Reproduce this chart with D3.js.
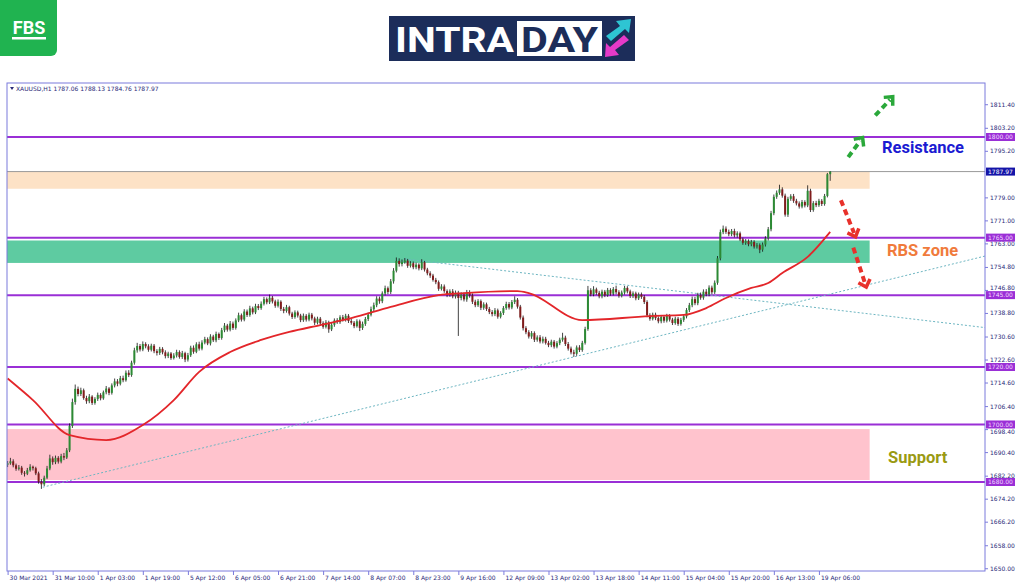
<!DOCTYPE html>
<html><head><meta charset="utf-8">
<script src="https://cdn.jsdelivr.net/npm/d3@7"></script>
<style>body{margin:0;background:#fff;}svg{display:block;}</style>
</head><body><svg id="c" width="1024" height="587"></svg>
<script>
// ---------------- DATA ----------------
const firstOpen = 1686.0;
const closes = [
1686.5,1687.2,1685.8,1684.6,1685.0,1683.2,1682.9,1684.1,1685.3,1684.8,
1683.0,1680.1,1679.2,1681.5,1684.7,1688.2,1686.9,1688.4,1687.1,1689.0,
1688.5,1691.0,1699.5,1707.8,1712.4,1710.6,1711.9,1709.2,1708.1,1709.7,
1707.5,1708.9,1710.3,1709.1,1711.2,1712.5,1711.0,1713.6,1715.0,1714.2,
1716.1,1715.4,1718.0,1717.2,1721.5,1725.8,1727.3,1726.1,1728.0,1727.2,
1726.0,1727.4,1725.5,1724.9,1726.3,1725.1,1723.8,1724.7,1723.1,1724.0,
1725.2,1723.5,1724.8,1722.6,1724.1,1726.7,1725.3,1727.9,1726.4,1728.5,
1729.7,1728.2,1730.6,1729.3,1731.5,1730.1,1732.8,1734.4,1733.0,1735.1,
1733.6,1736.2,1738.0,1736.5,1739.3,1738.1,1740.4,1739.0,1741.2,1740.5,
1742.0,1743.6,1742.5,1744.1,1742.8,1741.3,1742.7,1740.2,1739.5,1740.8,
1738.6,1737.4,1739.0,1737.9,1736.3,1737.8,1736.5,1738.2,1736.9,1735.4,
1736.8,1735.2,1734.0,1735.5,1733.1,1734.7,1736.2,1735.6,1737.3,1736.4,
1737.8,1736.0,1735.4,1734.2,1735.9,1733.6,1735.0,1736.7,1738.2,1740.1,
1741.5,1743.8,1742.9,1745.6,1747.4,1746.1,1749.8,1753.5,1756.9,1755.8,
1756.5,1757.0,1755.2,1756.1,1754.7,1755.6,1754.3,1756.4,1753.9,1752.6,
1751.8,1750.3,1749.5,1747.2,1748.0,1746.4,1745.1,1746.3,1744.6,1745.8,
1744.0,1745.2,1743.5,1746.0,1744.9,1742.7,1741.5,1742.9,1740.6,1741.8,
1740.2,1739.1,1738.4,1739.7,1737.5,1738.8,1740.5,1741.9,1740.7,1742.6,
1743.4,1741.0,1737.2,1733.5,1732.1,1730.6,1731.8,1729.5,1730.3,1728.9,
1729.8,1728.4,1727.6,1728.8,1727.1,1728.3,1729.5,1730.2,1728.0,1726.4,
1725.1,1724.6,1726.8,1725.9,1728.4,1733.2,1746.7,1745.3,1747.0,1745.8,
1744.6,1746.2,1745.0,1746.8,1745.5,1747.1,1746.0,1744.8,1745.9,1747.5,
1746.3,1744.7,1745.6,1743.9,1745.2,1744.4,1742.6,1738.0,1736.8,1738.2,
1737.0,1735.9,1737.4,1736.1,1737.8,1736.5,1735.3,1736.8,1735.0,1736.4,
1737.6,1739.8,1741.5,1743.6,1742.2,1745.0,1744.1,1746.2,1745.3,1747.6,
1746.0,1749.3,1757.8,1766.9,1768.1,1767.0,1766.2,1767.3,1765.8,1766.5,
1764.4,1763.2,1763.8,1762.7,1763.5,1761.9,1762.4,1760.8,1762.6,1764.7,
1767.9,1773.5,1779.2,1780.6,1781.8,1779.6,1773.0,1778.5,1779.4,1777.8,
1776.9,1775.8,1777.4,1776.2,1781.3,1774.6,1777.0,1776.3,1777.8,1776.7,
1779.5,1787.06,1787.97];
const highs = [
1687.3,1688.4,1687.9,1686.4,1685.9,1685.6,1683.8,1684.9,1686.2,1685.7,
1685.3,1683.6,1681.0,1682.2,1685.6,1689.5,1688.9,1689.2,1689.0,1689.8,
1690.1,1691.8,1700.4,1709.0,1713.9,1713.2,1712.8,1712.5,1710.0,1710.6,
1710.2,1709.5,1711.1,1710.9,1711.8,1713.4,1713.0,1714.3,1716.0,1715.8,
1716.9,1717.0,1718.8,1718.9,1722.2,1726.7,1728.4,1728.0,1728.9,1728.6,
1727.9,1728.1,1728.0,1726.2,1727.0,1726.9,1725.8,1725.3,1725.2,1724.8,
1726.0,1725.8,1725.6,1725.3,1724.9,1727.4,1727.5,1728.6,1728.8,1729.3,
1730.5,1730.3,1731.4,1731.2,1732.3,1732.0,1733.6,1735.3,1735.0,1736.0,
1735.8,1736.9,1738.9,1738.6,1740.1,1740.0,1741.3,1741.0,1742.0,1741.9,
1742.8,1744.4,1744.2,1745.2,1744.7,1743.4,1743.5,1743.2,1740.9,1741.6,
1741.3,1739.2,1739.7,1739.6,1738.5,1738.6,1738.4,1738.9,1738.8,1737.5,
1737.5,1737.4,1735.9,1736.3,1736.1,1735.4,1736.9,1737.0,1738.0,1738.1,
1738.5,1738.4,1736.8,1736.0,1736.6,1736.5,1735.8,1737.4,1738.9,1741.0,
1742.4,1744.6,1744.5,1746.3,1748.3,1748.0,1750.6,1754.4,1758.1,1757.8,
1757.4,1757.9,1757.6,1756.8,1756.7,1756.3,1756.1,1757.5,1756.9,1754.5,
1753.3,1752.4,1751.0,1750.1,1748.8,1748.7,1747.0,1747.0,1747.1,1746.6,
1746.5,1746.0,1745.9,1746.8,1746.7,1745.6,1743.4,1743.6,1743.5,1742.5,
1742.4,1740.9,1739.8,1740.5,1740.3,1739.4,1741.2,1742.7,1742.6,1743.3,
1744.6,1744.0,1741.6,1737.9,1734.2,1732.8,1732.5,1732.4,1731.0,1731.1,
1730.6,1730.5,1729.1,1729.5,1729.4,1729.0,1730.2,1731.9,1730.9,1728.7,
1727.1,1726.0,1727.5,1727.6,1729.1,1734.0,1748.2,1747.4,1748.1,1747.6,
1746.5,1746.9,1746.8,1747.5,1747.4,1747.8,1748.3,1746.7,1746.6,1748.2,
1748.1,1746.9,1746.3,1746.2,1745.9,1745.9,1745.0,1743.2,1738.7,1738.9,
1738.9,1737.6,1738.1,1738.0,1738.5,1738.4,1737.1,1737.5,1737.4,1737.1,
1738.3,1740.5,1742.3,1744.5,1744.4,1745.8,1745.9,1747.0,1747.1,1748.4,
1748.3,1750.1,1758.6,1767.8,1769.2,1768.9,1767.8,1768.0,1768.1,1767.2,
1767.1,1765.0,1764.5,1764.4,1764.2,1764.1,1763.1,1763.0,1763.3,1765.5,
1768.7,1774.3,1780.0,1781.4,1783.4,1782.5,1780.3,1779.2,1780.1,1780.2,
1778.5,1777.6,1778.1,1778.0,1783.2,1782.0,1777.7,1777.8,1778.5,1778.4,
1780.2,1787.5,1788.13];
const lows = [
1685.2,1686.0,1685.1,1683.9,1684.0,1682.5,1681.9,1682.4,1683.6,1684.0,
1682.4,1679.4,1677.6,1678.6,1681.0,1684.1,1686.0,1686.2,1686.4,1686.5,
1687.6,1688.0,1690.4,1698.8,1706.9,1709.8,1709.9,1708.6,1707.2,1707.4,
1706.8,1706.9,1708.2,1708.4,1708.6,1710.5,1710.2,1710.4,1712.9,1713.3,
1713.6,1714.7,1714.9,1716.5,1716.6,1720.8,1725.0,1725.4,1725.5,1726.5,
1725.3,1725.4,1724.8,1724.0,1724.2,1724.4,1723.0,1723.1,1722.5,1722.6,
1723.3,1722.9,1722.8,1721.7,1721.9,1723.5,1724.6,1724.8,1725.7,1725.8,
1727.9,1727.6,1727.5,1728.7,1728.6,1729.4,1729.5,1732.1,1732.3,1732.4,
1732.9,1733.0,1735.6,1735.8,1735.9,1737.4,1737.5,1738.3,1738.4,1739.8,
1739.9,1741.4,1741.8,1741.9,1742.1,1740.6,1740.7,1739.5,1738.7,1738.9,
1737.9,1736.7,1736.8,1737.2,1735.6,1735.7,1735.8,1735.9,1736.2,1734.6,
1734.8,1734.6,1733.3,1733.4,1731.9,1732.5,1734.0,1735.0,1735.0,1735.8,
1735.8,1735.3,1734.7,1733.5,1733.7,1732.5,1732.9,1734.3,1736.0,1737.6,
1739.4,1740.8,1742.0,1742.2,1744.9,1745.3,1745.4,1749.0,1752.9,1754.9,
1755.0,1755.9,1754.5,1754.6,1754.0,1754.0,1753.6,1753.7,1753.2,1751.9,
1751.0,1749.7,1748.8,1746.5,1746.6,1745.8,1744.3,1744.4,1743.9,1743.8,
1730.8,1743.2,1742.8,1742.7,1744.1,1741.9,1740.8,1740.9,1739.8,1739.9,
1739.5,1738.4,1737.6,1737.7,1736.8,1736.9,1738.1,1739.9,1740.0,1740.1,
1741.9,1740.3,1736.5,1732.7,1731.4,1729.9,1729.8,1728.7,1728.8,1728.2,
1728.2,1727.8,1726.9,1726.9,1726.4,1726.5,1727.6,1728.8,1727.3,1725.7,
1724.4,1723.5,1723.9,1725.2,1725.3,1727.8,1732.6,1744.6,1744.6,1745.1,
1743.9,1743.9,1744.3,1744.4,1744.8,1744.9,1745.3,1744.1,1744.2,1745.2,
1745.6,1744.0,1744.0,1743.2,1743.3,1743.7,1741.9,1737.3,1736.1,1736.2,
1736.3,1735.2,1735.2,1735.4,1735.5,1735.8,1734.6,1734.7,1734.3,1734.4,
1735.7,1736.9,1739.1,1740.8,1741.5,1741.5,1743.4,1743.4,1744.6,1744.6,
1745.3,1745.4,1748.6,1757.1,1766.2,1766.3,1765.5,1765.5,1765.1,1765.0,
1763.8,1762.5,1762.5,1762.0,1762.0,1761.2,1761.2,1759.6,1760.1,1761.9,
1764.0,1767.2,1772.8,1778.5,1779.9,1778.9,1772.3,1772.2,1777.8,1777.1,
1776.2,1775.1,1775.2,1775.5,1775.6,1773.9,1774.0,1775.6,1775.7,1776.0,
1776.1,1779.0,1784.76];

// moving average (read at selected bars)
const maBars = [0,9,22,35,48,59,68,79,90,100,111,122,136,153,162,181,185,204,228,240,248,255,264,270,275,284,292];
const maValues = [1716.0,1708.5,1696.3,1694.6,1699.8,1708.5,1718.3,1725.2,1729.4,1732.2,1734.6,1737.0,1740.9,1745.0,1745.7,1746.4,1745.7,1736.3,1737.7,1738.1,1740.5,1744.0,1747.5,1749.2,1752.7,1758.3,1767.0];

const levels = [1800, 1765, 1745, 1720, 1700, 1680];
const lastPrice = 1787.97;
const headerText = "XAUUSD,H1  1787.06 1788.13 1784.76 1787.97";

const zoneTops = [1787.97, 1764.0, 1698.4];
const zoneBottoms = [1782.0, 1756.2, 1680.7];
const zoneEndBar = 306;

const trendUp = [[12.5, 1678.2], [347, 1758.6]];
const trendDown = [[141, 1757.6], [347, 1733.7]];

const yTicks = [1811.40,1803.20,1795.20,1779.00,1771.00,1763.00,1754.80,1746.80,1738.80,1730.60,1722.60,1714.60,1706.40,1698.40,1690.40,1682.20,1674.20,1666.20,1658.00,1650.00];
const xTickBars = [0,16,32,48,64,80,96,112,128,144,160,176,192,208,224,240,256,272,288];
const xTickLabels = ["30 Mar 2021","31 Mar 10:00","1 Apr 03:00","1 Apr 19:00","5 Apr 12:00","6 Apr 05:00","6 Apr 21:00","7 Apr 14:00","8 Apr 07:00","8 Apr 23:00","9 Apr 16:00","12 Apr 09:00","13 Apr 02:00","13 Apr 18:00","14 Apr 11:00","15 Apr 04:00","15 Apr 20:00","16 Apr 13:00","19 Apr 06:00"];

const annotations = ["Resistance", "RBS zone", "Support"];
const annotationPrice = [1796.6, 1760.6, 1688.6];

const arrowUpFrom = [[298.4, 1793.0], [308.0, 1807.5]];
const arrowUpTo = [[303.5, 1799.8], [314.2, 1814.0]];
const arrowDnFrom = [[295.8, 1778.0], [300.2, 1761.5]];
const arrowDnTo = [[301.0, 1765.3], [304.8, 1747.8]];

// ---------------- STYLE ----------------
const C = {
  frame: "#7b7bdc", tickText: "#2a2a78", level: "#9a2fd6", levelBox: "#9a2fd6",
  lastBox: "#1414a8", bull: "#2c8a34", bear: "#801c1c", wick: "#111",
  ma: "#e3262a", trend: "#6eb6c2", peach: "#fde2c6", green: "#5ecba1", pink: "#ffc3cd",
  resist: "#1a1ad2", rbs: "#f07b3c", support: "#9a9a12", arrowG: "#2aa83a", arrowR: "#e8312b"
};
const L = {left: 7, right: 985, top: 83, bottom: 571};

const svg = d3.select("#c");
const x = d3.scaleLinear().domain([0, 292]).range([7.6, 830.2]);
const y = d3.scaleLinear().domain([1650, 1800]).range([568.25, 137]);

// ---------- logos ----------
const logo = svg.append("g");
logo.append("rect").attr("x", -6).attr("y", -6).attr("width", 63).attr("height", 62).attr("rx", 6).attr("fill", "#20b350");
logo.append("text").attr("x", 29).attr("y", 34).attr("text-anchor", "middle")
  .attr("font-family", "Roboto, Arial, sans-serif").attr("font-weight", 700).attr("font-size", 18)
  .attr("fill", "#fff").text("FBS");
logo.append("rect").attr("x", 12).attr("y", 37).attr("width", 34).attr("height", 2.5).attr("fill", "#fff");

const intr = svg.append("g");
intr.append("rect").attr("x", 389).attr("y", 16).attr("width", 246).attr("height", 45).attr("fill", "#1c2d5a");
intr.append("rect").attr("x", 517).attr("y", 21).attr("width", 85).attr("height", 35).attr("fill", "#fff");
intr.append("text").attr("x", 395).attr("y", 52).attr("font-family", "Roboto, Arial, sans-serif")
  .attr("font-weight", 700).attr("font-size", 35).attr("fill", "#fff")
  .attr("textLength", 119).attr("lengthAdjust", "spacingAndGlyphs").text("INTRA");
intr.append("text").attr("x", 521).attr("y", 52).attr("font-family", "Roboto, Arial, sans-serif")
  .attr("font-weight", 700).attr("font-size", 35).attr("fill", "#1c2d5a")
  .attr("textLength", 77).attr("lengthAdjust", "spacingAndGlyphs").text("DAY");
// arrow icon
intr.append("path").attr("d", "M606,36 L620,26 L616,21 L631,19 L629,33 L625,29 L611,41 Z").attr("fill", "#2ec5d3");
intr.append("path").attr("d", "M629,40 L615,50 L619,55 L605,57 L606,43 L610,47 L624,35 Z").attr("fill", "#e63ac8");

// ---------- plot clip ----------
svg.append("defs").append("clipPath").attr("id", "clip").append("rect")
  .attr("x", L.left).attr("y", L.top).attr("width", L.right - L.left).attr("height", L.bottom - L.top);
const plot = svg.append("g").attr("clip-path", "url(#clip)");

// zones
const zc = [C.peach, C.green, C.pink];
plot.selectAll("rect.zone").data(zoneTops).join("rect").attr("class", "zone")
  .attr("x", L.left).attr("width", (d) => x(zoneEndBar) - L.left)
  .attr("y", (d) => y(d)).attr("height", (d, i) => y(zoneBottoms[i]) - y(d))
  .attr("fill", (d, i) => zc[i]);

// last price line
plot.append("line").attr("x1", L.left).attr("x2", L.right).attr("y1", y(lastPrice)).attr("y2", y(lastPrice))
  .attr("stroke", "#9a9a9a").attr("stroke-width", 1);

// levels
plot.selectAll("line.level").data(levels).join("line").attr("class", "level")
  .attr("x1", L.left).attr("x2", L.right).attr("y1", (d) => y(d)).attr("y2", (d) => y(d))
  .attr("stroke", C.level).attr("stroke-width", 2);

// trend lines
const tl = d3.line().x((d) => x(d[0])).y((d) => y(d[1]));
[trendUp, trendDown].forEach((t) => {
  plot.append("path").attr("d", tl(t)).attr("fill", "none").attr("stroke", C.trend)
    .attr("stroke-width", 1).attr("stroke-dasharray", "2,2");
});

// candles
const bars = closes.map((c, i) => {
  const o = i === 0 ? firstOpen : closes[i - 1];
  return {i, o, c, h: Math.max(highs[i], o, c), l: Math.min(lows[i], o, c)};
});
const cg = plot.append("g");
cg.selectAll("line.wick").data(bars).join("line")
  .attr("x1", (d) => x(d.i)).attr("x2", (d) => x(d.i))
  .attr("y1", (d) => y(d.h)).attr("y2", (d) => y(d.l))
  .attr("stroke", C.wick).attr("stroke-width", 0.8);
cg.selectAll("rect.body").data(bars).join("rect")
  .attr("x", (d) => x(d.i) - 1).attr("width", 2)
  .attr("y", (d) => y(Math.max(d.o, d.c)))
  .attr("height", (d) => Math.max(0.8, Math.abs(y(d.o) - y(d.c))))
  .attr("fill", (d) => d.c >= d.o ? C.bull : C.bear);

// moving average
const maLine = d3.line().x((d, i) => x(maBars[i])).y((d) => y(d)).curve(d3.curveMonotoneX);
plot.append("path").attr("d", maLine(maValues)).attr("fill", "none").attr("stroke", C.ma).attr("stroke-width", 1.8);

// arrows
function arrow(from, to, color) {
  const x1 = x(from[0]), y1 = y(from[1]), x2 = x(to[0]), y2 = y(to[1]);
  const ang = Math.atan2(y2 - y1, x2 - x1), hl = 9, spread = 0.75;
  const g = svg.append("g");
  g.append("line").attr("x1", x1).attr("y1", y1)
    .attr("x2", x2 - Math.cos(ang) * 4).attr("y2", y2 - Math.sin(ang) * 4)
    .attr("stroke", color).attr("stroke-width", 4).attr("stroke-dasharray", "6,4");
  const p = [[x2 - hl * Math.cos(ang - spread), y2 - hl * Math.sin(ang - spread)], [x2, y2],
             [x2 - hl * Math.cos(ang + spread), y2 - hl * Math.sin(ang + spread)]];
  g.append("path").attr("d", d3.line()(p)).attr("fill", "none").attr("stroke", color)
    .attr("stroke-width", 3.5).attr("stroke-linejoin", "miter");
}
arrowUpFrom.forEach((f, i) => arrow(f, arrowUpTo[i], C.arrowG));
arrowDnFrom.forEach((f, i) => arrow(f, arrowDnTo[i], C.arrowR));

// annotations
const ac = [C.resist, C.rbs, C.support];
const ax = [882, 887, 888];
svg.selectAll("text.ann").data(annotations).join("text").attr("class", "ann")
  .attr("x", (d, i) => ax[i]).attr("y", (d, i) => y(annotationPrice[i]))
  .attr("dy", "0.36em")
  .attr("font-family", "Roboto, Arial, sans-serif").attr("font-weight", 700).attr("font-size", 16.5)
  .attr("fill", (d, i) => ac[i]).text((d) => d);

// frame
svg.append("rect").attr("x", L.left).attr("y", L.top).attr("width", L.right - L.left)
  .attr("height", L.bottom - L.top).attr("fill", "none").attr("stroke", C.frame).attr("stroke-width", 1);

// header text
svg.append("path").attr("d", "M10,87 L14,87 L12,90 Z").attr("fill", C.tickText);
svg.append("text").attr("x", 16).attr("y", 91).attr("font-family", "DejaVu Sans, sans-serif")
  .attr("font-size", 6).attr("fill", C.tickText).text(headerText);

// y axis
const yAxis = d3.axisRight(y).tickValues(yTicks).tickFormat(d3.format(".2f")).tickSize(3).tickPadding(2);
const yg = svg.append("g").attr("transform", `translate(${L.right},0)`).call(yAxis);
yg.select(".domain").remove();
yg.selectAll("line").attr("stroke", C.frame);
yg.selectAll("text").attr("font-family", "DejaVu Sans, sans-serif").attr("font-size", 6).attr("fill", C.tickText);
// labels that sit right next to a level box: nudge clear of it (reference shows them half hidden)
yg.selectAll(".tick text").attr("dy", (d) => {
  const near = levels.find((v) => Math.abs(v - d) < 2);
  if (near === undefined) return "0.32em";
  return d > near ? "-0.15em" : "0.8em";
});

// x axis
const xAxis = d3.axisBottom(x).tickValues(xTickBars).tickFormat((d, i) => xTickLabels[i]).tickSize(4).tickPadding(1);
const xg = svg.append("g").attr("transform", `translate(0,${L.bottom})`).call(xAxis);
xg.select(".domain").remove();
xg.selectAll("line").attr("stroke", C.frame);
xg.selectAll("text").attr("text-anchor", "start").attr("dx", 1.5)
  .attr("font-family", "DejaVu Sans, sans-serif").attr("font-size", 6).attr("fill", C.tickText);

// level boxes on axis
const boxes = levels.map((v) => ({v, fill: C.levelBox, text: "#f2d9ff"})).concat([{v: lastPrice, fill: C.lastBox, text: "#fff"}]);
const bg = svg.append("g");
bg.selectAll("rect").data(boxes).join("rect")
  .attr("x", L.right + 1).attr("y", (d) => y(d.v) - 4).attr("width", 29).attr("height", 8).attr("fill", (d) => d.fill);
bg.selectAll("text").data(boxes).join("text")
  .attr("x", L.right + 3).attr("y", (d) => y(d.v)).attr("dy", "0.35em")
  .attr("font-family", "DejaVu Sans, sans-serif").attr("font-size", 6).attr("fill", (d) => d.text)
  .text((d) => d3.format(".2f")(d.v));
</script></body></html>
